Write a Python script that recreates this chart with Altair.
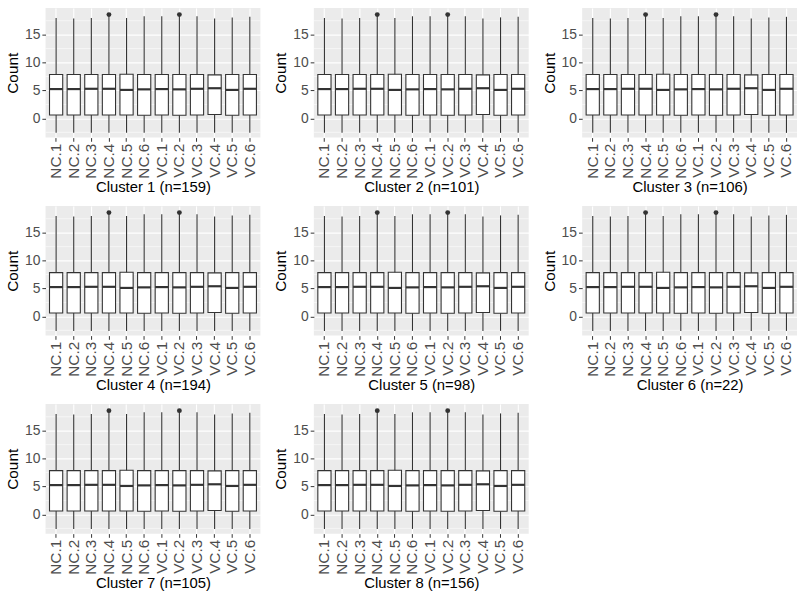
import altair as alt
import pandas as pd

categories = ["NC.1", "NC.2", "NC.3", "NC.4", "NC.5", "NC.6",
              "VC.1", "VC.2", "VC.3", "VC.4", "VC.5", "VC.6"]
whisker_low = [-2.6, -2.6, -2.6, -2.6, -2.6, -2.6, -2.6, -2.6, -2.6, -2.6, -2.6, -2.6]
q1 = [0.6, 0.6, 0.6, 0.6, 0.6, 0.55, 0.6, 0.55, 0.6, 0.7, 0.55, 0.6]
median = [5.25, 5.25, 5.3, 5.3, 5.1, 5.2, 5.25, 5.2, 5.3, 5.4, 5.1, 5.3]
q3 = [7.85, 7.85, 7.85, 7.85, 7.9, 7.85, 7.85, 7.85, 7.85, 7.8, 7.85, 7.85]
whisker_high = [18.0, 17.9, 18.0, 18.4, 18.0, 18.3, 18.3, 18.4, 18.3, 17.9, 18.1, 18.2]
outlier_categories = ["NC.4", "VC.2"]
outlier_values = [18.6, 18.6]

cluster_ids = [1, 2, 3, 4, 5, 6, 7, 8]
cluster_sizes = [159, 101, 106, 194, 98, 22, 105, 156]

major_breaks = [0, 5, 10, 15]
minor_breaks = [-2.5, 2.5, 7.5, 12.5, 17.5]
y_domain = [-3.45, 19.8]

box_df = pd.DataFrame({
    "category": categories, "lo": whisker_low, "q1": q1,
    "median": median, "q3": q3, "hi": whisker_high,
})
out_df = pd.DataFrame({"category": outlier_categories, "value": outlier_values})
minor_df = pd.DataFrame({"v": minor_breaks})

DARK = "#333333"
W, H = 217, 131

y_scale = alt.Scale(domain=y_domain, nice=False, zero=False)
y_axis = alt.Axis(title="Count", values=major_breaks, labelFontSize=14,
                  labelColor="#4D4D4D", tickColor=DARK, tickSize=3.7,
                  labelPadding=2, gridColor="white", gridWidth=1.1,
                  domain=False, titleFontSize=15.5, titleColor="black",
                  titleFontWeight="normal", titlePadding=4)
x_scale = alt.Scale(domain=categories, paddingInner=0, paddingOuter=0.1)


def panel(cid, n):
    x_axis = alt.Axis(title=f"Cluster {cid} (n={n})", labelAngle=-90,
                      labelFontSize=15.5, labelColor="#4D4D4D",
                      tickColor=DARK, tickSize=3.7, labelPadding=2,
                      grid=True, gridColor="white", gridWidth=1.1,
                      bandPosition=0.5, domain=False, titleFontSize=15,
                      titleColor="black", titleFontWeight="normal",
                      titlePadding=1)
    x = alt.X("category:N", sort=categories, scale=x_scale, axis=x_axis)
    minor = alt.Chart(minor_df).mark_rule(color="white", strokeWidth=0.55).encode(
        y=alt.Y("v:Q", scale=y_scale, axis=y_axis)
    )
    base = alt.Chart(box_df)
    whisk = base.mark_rule(color=DARK, strokeWidth=1.1).encode(
        x=x, y=alt.Y("lo:Q", scale=y_scale, axis=y_axis), y2="hi:Q"
    )
    box = base.mark_bar(width={"band": 0.75}, fill="white", stroke=DARK,
                        strokeWidth=1.1).encode(
        x=x, y=alt.Y("q1:Q", scale=y_scale, axis=y_axis), y2="q3:Q"
    )
    med = base.mark_tick(color=DARK, thickness=2.2, size=13.3, opacity=1).encode(
        x=x, y=alt.Y("median:Q", scale=y_scale, axis=y_axis)
    )
    pts = alt.Chart(out_df).mark_circle(color=DARK, size=24, opacity=1).encode(
        x=x, y=alt.Y("value:Q", scale=y_scale, axis=y_axis)
    )
    return alt.layer(minor, whisk, box, med, pts).properties(width=W, height=H)


charts = [panel(c, n) for c, n in zip(cluster_ids, cluster_sizes)]

chart = alt.concat(*charts, columns=3, spacing={"row": 11, "column": 12}).properties(
    padding={"left": 5, "top": 5, "right": 2, "bottom": 2}
).configure(font="Liberation Sans", background="white").configure_view(
    fill="#EBEBEB", strokeWidth=0
)

chart.save("out.html", embed_options={"renderer": "svg", "actions": False})
